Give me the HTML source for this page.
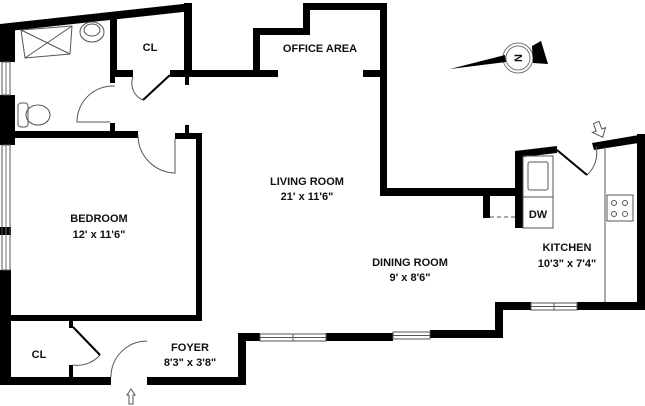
<!DOCTYPE html>
<html><head><style>
html,body{margin:0;padding:0;background:#fff}
svg{display:block}
text{font-family:"Liberation Sans",sans-serif;font-weight:bold;font-size:11px;fill:#111;text-anchor:middle}
</style></head><body>
<svg width="645" height="406" viewBox="0 0 645 406" xmlns="http://www.w3.org/2000/svg">
<g fill="#000">
<!-- top diagonal -->
<polygon points="0,24 192,3 192,11 0,32"/>
<rect x="0" y="24" width="15" height="38"/>
<rect x="0" y="95" width="15" height="50"/>
<rect x="0" y="227" width="11" height="8"/>
<rect x="0" y="270" width="11" height="115"/>
<!-- windows left -->
<rect x="2" y="62" width="8" height="33" fill="none" stroke="#555" stroke-width="1"/>
<rect x="2" y="145" width="8" height="125" fill="none" stroke="#555" stroke-width="1"/>
<line x1="6" y1="62" x2="6" y2="95" stroke="#777" stroke-width="1"/>
<line x1="6" y1="145" x2="6" y2="270" stroke="#777" stroke-width="1"/>
<!-- CL top walls -->
<rect x="184" y="3" width="8" height="74"/>
<rect x="110" y="18" width="7" height="59"/>
<rect x="110" y="70" width="23" height="7"/>
<rect x="170" y="70" width="108" height="7"/>
<rect x="185" y="77" width="4" height="8"/>
<rect x="110" y="77" width="5" height="6"/>
<!-- office -->
<rect x="253" y="28" width="7" height="49"/>
<rect x="253" y="28" width="57" height="7"/>
<rect x="303" y="3" width="7" height="32"/>
<rect x="303" y="3" width="84" height="7"/>
<rect x="363" y="70" width="24" height="7"/>
<rect x="380" y="3" width="7" height="193"/>
<rect x="380" y="188" width="143" height="8"/>
<!-- bath bottom / bedroom top -->
<rect x="12" y="131" width="126" height="7"/>
<rect x="110" y="123" width="5" height="10"/>
<rect x="185" y="125" width="4" height="8"/>
<rect x="175" y="133" width="27" height="6"/>
<rect x="196" y="133" width="6" height="187"/>
<rect x="0" y="315" width="202" height="6"/>
<!-- kitchen -->
<polygon points="515,151 557,146 557,153 523,157 523,228 515,228"/>
<rect x="483" y="196" width="7" height="22"/>
<polygon points="592,143 645,134 645,142 594,150"/>
<rect x="637" y="134" width="8" height="176"/>
<rect x="577" y="302" width="68" height="8"/>
<rect x="495" y="302" width="36" height="8"/>
<rect x="495" y="302" width="8" height="36"/>
<!-- bottom -->
<rect x="430" y="330" width="73" height="8"/>
<rect x="326" y="333" width="67" height="8"/>
<rect x="238" y="333" width="22" height="8"/>
<rect x="238" y="333" width="8" height="52"/>
<rect x="147" y="377" width="99" height="8"/>
<rect x="0" y="377" width="111" height="8"/>
<rect x="69" y="320" width="4" height="8"/>
<rect x="69" y="365" width="4" height="12"/>
</g>
<g fill="none" stroke="#555" stroke-width="1">
<!-- windows -->
<rect x="260" y="334" width="66" height="7"/><line x1="293" y1="334" x2="293" y2="341"/><line x1="260" y1="337.5" x2="326" y2="337.5"/>
<rect x="393" y="332" width="37" height="7"/><line x1="393" y1="335.5" x2="430" y2="335.5"/>
<rect x="531" y="303" width="46" height="7"/><line x1="554" y1="303" x2="554" y2="310"/><line x1="531" y1="306.5" x2="577" y2="306.5"/>
<!-- door arcs -->
<path d="M133,77 A 18 18 0 0 0 143,100"/>
<path d="M115,86 A 36 36 0 0 0 77,122 L110,122"/>
<path d="M138,135 A 38 38 0 0 0 175,173 L175,139"/>
<path d="M73,365 A 30 30 0 0 0 100,355"/>
<path d="M147,341 A 36 36 0 0 0 111,377"/>
<path d="M596,146 A 30 30 0 0 1 587,175"/>
<line x1="605" y1="147" x2="605" y2="302"/>
<rect x="523" y="156" width="30" height="72"/>
<line x1="523" y1="197" x2="553" y2="197"/>
<rect x="528" y="162" width="20" height="28" rx="2"/>
<line x1="490" y1="217" x2="515" y2="217" stroke-dasharray="4,3"/>
<!-- fixtures -->
<polygon points="21,30 72,26 70,54 25,58"/>
<line x1="21" y1="30" x2="70" y2="54"/><line x1="72" y1="26" x2="25" y2="58"/>
<ellipse cx="92" cy="32" rx="12" ry="10"/><ellipse cx="92" cy="30" rx="8" ry="6"/>
<ellipse cx="38" cy="115" rx="12" ry="10"/><rect x="18" y="103" width="10" height="24" rx="3"/>
<rect x="607" y="195" width="26" height="26"/>
<circle cx="614" cy="203" r="2.5"/><circle cx="625" cy="203" r="2.5"/>
<circle cx="614" cy="214" r="2.5"/><circle cx="625" cy="214" r="2.5"/>
<!-- entry arrows -->
<polygon points="127,395 131,389 135,395 133,395 133,404 129,404 129,395"/>
<polygon points="596,122 596,130 592,130 600,138 606,130 602,130 602,122" transform="rotate(-20 599 130)"/>
<!-- compass rings -->
<circle cx="518" cy="58" r="15" stroke="#777"/>
<circle cx="518" cy="58" r="12" stroke="#777"/>
</g>
<g stroke="#000" stroke-width="2">
<line x1="143" y1="100" x2="170" y2="75"/>
<line x1="73" y1="327" x2="100" y2="355"/>
<line x1="557" y1="150" x2="587" y2="175"/>
</g>
<polygon points="450,69 505,55 506,62" fill="#000"/>
<polygon points="532,46 541,41 548,64 533,63" fill="#000"/>
<text x="518" y="62" transform="rotate(-90 518 58)" font-size="13">N</text>
<text x="150" y="51">CL</text>
<text x="320" y="52">OFFICE AREA</text>
<text x="307" y="185">LIVING ROOM</text>
<text x="307" y="200">21' x 11'6"</text>
<text x="99" y="222">BEDROOM</text>
<text x="99" y="238">12' x 11'6"</text>
<text x="410" y="266">DINING ROOM</text>
<text x="410" y="281">9' x 8'6"</text>
<text x="567" y="251">KITCHEN</text>
<text x="567" y="267">10'3" x 7'4"</text>
<text x="538" y="218">DW</text>
<text x="190" y="351">FOYER</text>
<text x="190" y="366">8'3" x 3'8"</text>
<text x="39" y="358">CL</text>
</svg>
</body></html>
